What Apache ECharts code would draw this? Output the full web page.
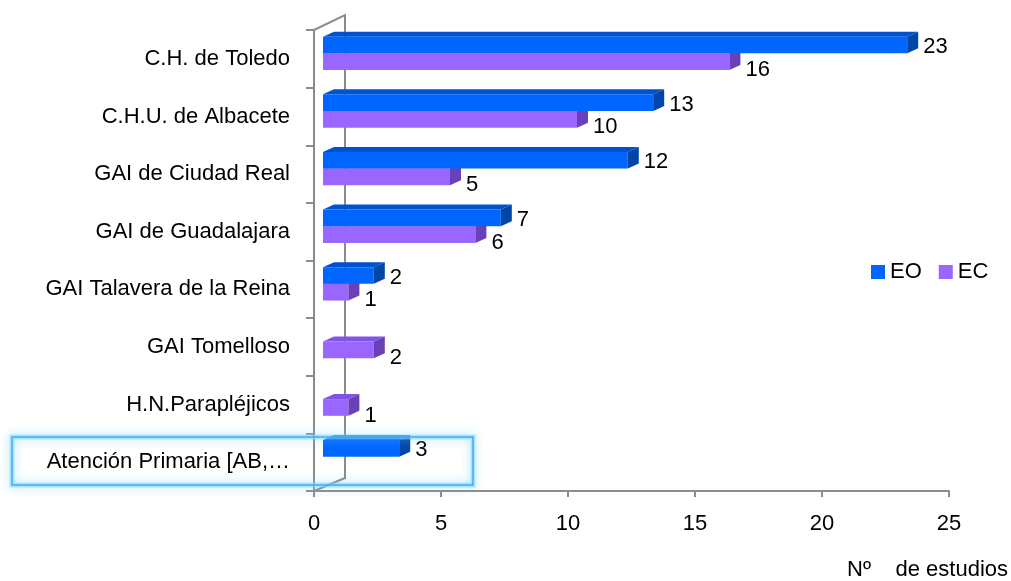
<!DOCTYPE html>
<html><head><meta charset="utf-8">
<script src="https://cdn.jsdelivr.net/npm/echarts@6/dist/echarts.min.js"></script>
<style>html,body{margin:0;padding:0;background:#fff}#c{width:1011px;height:581px}</style>
</head><body><div id="c"></div>
<script>
const categories = ['C.H. de Toledo','C.H.U. de Albacete','GAI de Ciudad Real','GAI de Guadalajara','GAI Talavera de la Reina','GAI Tomelloso','H.N.Parapléjicos','Atención Primaria [AB,…'];
const eoValues = [23, 13, 12, 7, 2, 0, 0, 3];
const ecValues = [16, 10, 5, 6, 1, 2, 1, 0];
const xTicks = [0, 5, 10, 15, 20, 25];

const FONT = "'Liberation Sans',Arial,sans-serif";
const FS = 22;
const chart = echarts.init(document.getElementById('c'), null, {renderer:'canvas'});

function make3D(front, top, side, slot) {
  // slot: 0 = upper bar (EO), 1 = lower bar (EC)
  return function (params, api) {
    const v = api.value(0), cat = api.value(1);
    if (!v) return null;
    const p0 = api.coord([0, cat]);
    const p1 = api.coord([v, cat]);
    const band = api.size([0, 1])[1];
    const dx = 11, dy = -5, shift = 9;
    const h = band * 0.29;
    const y = slot === 0 ? p0[1] - band * 0.385 : p0[1] - band * 0.385 + h;
    const x0 = p0[0] + shift, x1 = p1[0] + shift;
    return {
      type: 'group',
      children: [
        {type:'polygon', shape:{points:[[x0,y],[x0+dx,y+dy],[x1+dx,y+dy],[x1,y]]}, style:{fill:top}},
        {type:'rect', shape:{x:x0, y:y, width:x1-x0, height:h}, style:{fill:front}},
        {type:'polygon', shape:{points:[[x1,y],[x1+dx,y+dy],[x1+dx,y+h+dy],[x1,y+h]]}, style:{fill:side}},
        {type:'text', z2: 10, style:{text:String(v), x:x1+dx+5, y:y+h/2+(slot===0?2:8),
          verticalAlign:'middle', align:'left', fill:'#000', font:FS + 'px ' + FONT}}
      ]
    };
  };
}

const option = {
  backgroundColor:'#fff',
  animation:false,
  grid:{left:314, right:62, top:30, bottom:90, containLabel:false},
  title:{text:'Nº    de estudios', right:-2, top:554, textStyle:{fontFamily:FONT, fontSize:FS, fontWeight:'normal', color:'#000'}},
  legend:{data:['EO','EC'], left:866, top:256, itemWidth:14, itemHeight:14, itemGap:17,
    icon:'rect', textStyle:{fontFamily:FONT, fontSize:FS, color:'#000'}},
  xAxis:{type:'value', min:xTicks[0], max:xTicks[xTicks.length-1], interval:5,
    axisLine:{show:true, lineStyle:{color:'#8c8c8c', width:2}},
    axisTick:{show:true, length:6, lineStyle:{color:'#8c8c8c', width:2}},
    splitLine:{show:false},
    axisLabel:{margin:22, fontFamily:FONT, fontSize:FS, color:'#000'}},
  yAxis:{type:'category', inverse:true, data:categories,
    axisLine:{show:true, lineStyle:{color:'#8c8c8c', width:2}},
    axisTick:{show:true, length:8, lineStyle:{color:'#8c8c8c', width:2}},
    axisLabel:{margin:24, fontFamily:FONT, fontSize:FS, color:'#000'}},
  graphic:[
    {type:'polyline', z:0, shape:{points:[[314,30],[345,15],[345,478],[314,491]]}, style:{stroke:'#8c8c8c', lineWidth:2, fill:null}},
    {type:'rect', z:99, shape:{x:12, y:437, width:461, height:48}, style:{fill:'rgba(0,0,0,0)', stroke:'rgba(130,215,255,0.55)', lineWidth:5, shadowBlur:10, shadowColor:'rgba(90,210,255,0.9)'}},
    {type:'rect', z:100, shape:{x:12, y:437, width:461, height:48}, style:{fill:'rgba(0,0,0,0)', stroke:'#4aa6f5', lineWidth:1.5}}
  ],
  series:[
    {name:'EC', type:'custom', z:2, renderItem:make3D('#9966FF','#7F55E6','#6A40B8',1),
      itemStyle:{color:'#9966FF'}, encode:{x:0, y:1},
      data: ecValues.map((v,i)=>[v,i])},
    {name:'EO', type:'custom', z:3, renderItem:make3D('#0066FF','#0052CC','#0046A8',0),
      itemStyle:{color:'#0066FF'}, encode:{x:0, y:1},
      data: eoValues.map((v,i)=>[v,i])}
  ]
};
chart.setOption(option);
</script></body></html>
